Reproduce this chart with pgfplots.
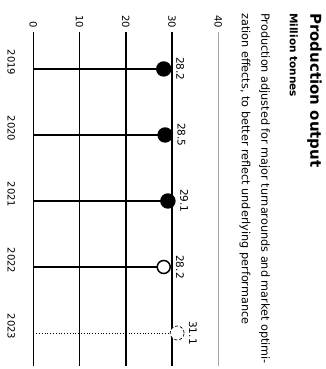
\documentclass[border=0pt]{standalone}
\usepackage{pgfplots}
\pgfplotsset{compat=1.18}
\usepackage{fontspec}
\setmainfont{DejaVu Sans}
\begin{document}
\begin{tikzpicture}[x=1pt,y=1pt]
\useasboundingbox (0,0) rectangle (326,-369);
\node[rotate=-90, anchor=north west, inner sep=0pt, font=\bfseries\fontsize{15}{18}\selectfont] at (322,-13) {Production output};
\node[rotate=-90, anchor=north west, inner sep=0pt, font=\bfseries\fontsize{10.5}{12}\selectfont] at (298,-13) {Million tonnes};
\node[rotate=-90, anchor=north west, inner sep=0pt, font=\fontsize{11.25}{13}\selectfont] at (270,-13) {Production adjusted for major turnarounds and market optimi-};
\node[rotate=-90, anchor=north west, inner sep=0pt, font=\fontsize{11.25}{13}\selectfont] at (250.5,-13) {zation effects, to better reflect underlying performance};
\begin{axis}[
  at={(33.3pt,-32pt)}, anchor=north west, scale only axis,
  width=185pt, height=334pt,
  xmin=0, xmax=40, ymin=2018.44, ymax=2023.5, y dir=reverse,
  axis line style={draw=none}, major tick length=0pt,
  xtick={0,10,20,30}, extra x ticks={40},
  extra x tick style={grid style={gray!70, line width=1pt}},
  xmajorgrids, grid style={black, line width=1.5pt},
  xticklabel pos=upper,
  /pgf/number format/assume math mode=true,
  xticklabel style={rotate=-90, anchor=east, inner xsep=4pt, font=\fontsize{10}{12}\selectfont},
  ytick={2018.902,2019.902,2020.902,2021.902,2022.902},
  yticklabels={2019,2020,2021,2022,2023},
  yticklabel style={rotate=-90, anchor=north, inner ysep=18pt, font=\fontsize{10}{12}\selectfont},
  clip=false,
  point meta=x,
  nodes near coords={\pgfmathprintnumber[fixed,fixed zerofill,precision=1]{\pgfplotspointmeta}},
  nodes near coords style={rotate=-90, anchor=south, inner ysep=11.5pt, font=\fontsize{10.5}{12}\selectfont, solid},
]
\addplot[xcomb, black, line width=1.8pt, mark=*, mark size=6.8pt, mark options={fill=black}]
  coordinates {(28.2,2019) (28.5,2020) (29.1,2021)};
\addplot[xcomb, black, line width=1.8pt, mark=*, mark size=6.5pt, mark options={fill=white, line width=1.5pt}]
  coordinates {(28.2,2022)};
\addplot[xcomb, black, line width=0.8pt, dotted, mark=*, mark size=7pt, mark options={fill=white, densely dashed, line width=0.7pt}]
  coordinates {(31.1,2023)};
\end{axis}
\end{tikzpicture}
\end{document}
